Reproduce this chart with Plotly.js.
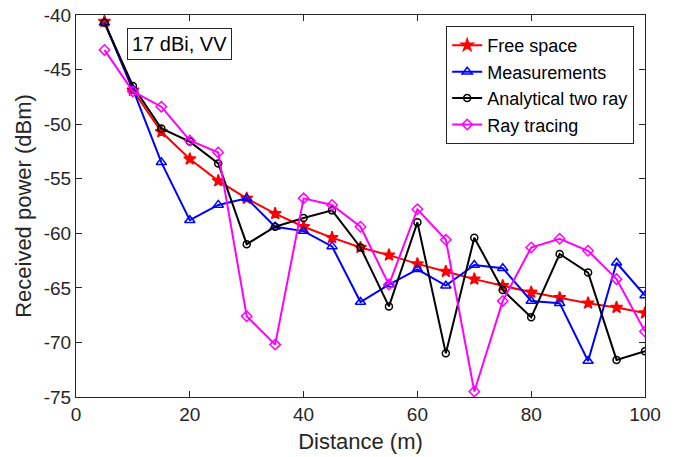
<!DOCTYPE html>
<html>
<head>
<meta charset="utf-8">
<script src="https://cdn.plot.ly/plotly-3.0.1.min.js"></script>
<style>html,body{margin:0;padding:0;background:#fff;}#chart{width:674px;height:457px;}</style>
</head>
<body>
<div id="chart"></div>
<script>
const distance = [5,10,15,20,25,30,35,40,45,50,55,60,65,70,75,80,85,90,95,100];
const freeSpace = [-40.6,-46.9,-50.7,-53.2,-55.2,-56.8,-58.2,-59.4,-60.4,-61.3,-62.0,-62.8,-63.5,-64.2,-64.8,-65.4,-65.9,-66.4,-66.8,-67.3];
const measurements = [-40.7,-46.8,-53.5,-58.8,-57.4,-56.8,-59.4,-59.8,-61.2,-66.3,-64.7,-63.3,-64.8,-62.9,-63.2,-66.2,-66.4,-71.7,-62.7,-65.7];
const twoRay = [-40.7,-46.5,-50.4,-51.6,-53.6,-61.0,-59.4,-58.6,-57.9,-61.3,-66.7,-59.0,-71.0,-60.4,-65.2,-67.7,-61.9,-63.6,-71.6,-70.8];
const rayTracing = [-43.2,-47.0,-48.4,-51.5,-52.6,-67.6,-70.2,-56.8,-57.4,-59.4,-64.7,-57.8,-60.6,-74.5,-66.2,-61.3,-60.5,-61.6,-64.2,-69.0];
const seriesNames = ["Free space","Measurements","Analytical two ray","Ray tracing"];
const xTicks = [0,20,40,60,80,100];
const yTicks = [-75,-70,-65,-60,-55,-50,-45,-40];
const annotationText = "17 dBi, VV";

const font = "Liberation Sans, Arial, sans-serif";
const axisColor = "#262626";
function tr(y, name, color, symbol, size) {
  return {x: distance, y: y, name: name, type: "scatter", mode: "lines+markers",
    line: {color: color, width: 2},
    marker: {symbol: symbol, size: size, color: color, line: {color: color, width: 1.5}}};
}
const data = [
  tr(freeSpace, seriesNames[0], "#ff0000", "star", 9),
  tr(measurements, seriesNames[1], "#0000ff", "triangle-up-open", 9),
  tr(twoRay, seriesNames[2], "#000000", "circle-open", 7),
  tr(rayTracing, seriesNames[3], "#ff00ff", "diamond-open", 8)
];
const axisCommon = {
  showgrid: false, zeroline: false, showline: true, mirror: "ticks",
  linecolor: axisColor, linewidth: 1, ticks: "inside", ticklen: 6, tickwidth: 1,
  tickcolor: axisColor, tickfont: {family: font, size: 19, color: axisColor}
};
const layout = {
  width: 674, height: 457,
  margin: {l: 76, r: 29, t: 15, b: 60},
  paper_bgcolor: "#fff", plot_bgcolor: "#fff",
  font: {family: font, color: axisColor},
  xaxis: Object.assign({}, axisCommon, {
    range: [0, 100], tickvals: xTicks, ticktext: xTicks.map(String),
    title: {text: "Distance (m)", font: {family: font, size: 22, color: axisColor}, standoff: 9}
  }),
  yaxis: Object.assign({}, axisCommon, {
    range: [-75, -40], tickvals: yTicks, ticktext: yTicks.map(String),
    title: {text: "Received power (dBm)", font: {family: font, size: 22, color: axisColor}, standoff: 6}
  }),
  showlegend: true,
  legend: {x: 0.981, y: 0.971, xanchor: "right", yanchor: "top",
    bgcolor: "#fff", bordercolor: "#262626", borderwidth: 1,
    font: {family: font, size: 18, color: "#000"}, tracegroupgap: 0, itemwidth: 30},
  annotations: [{
    text: annotationText, xref: "paper", yref: "paper", x: 0.089, y: 0.966,
    xanchor: "left", yanchor: "top", showarrow: false,
    font: {family: font, size: 20, color: "#000"},
    bordercolor: "#262626", borderwidth: 1, borderpad: 4, bgcolor: "#fff"
  }]
};
Plotly.newPlot("chart", data, layout, {displayModeBar: false, staticPlot: true});
</script>
</body>
</html>
